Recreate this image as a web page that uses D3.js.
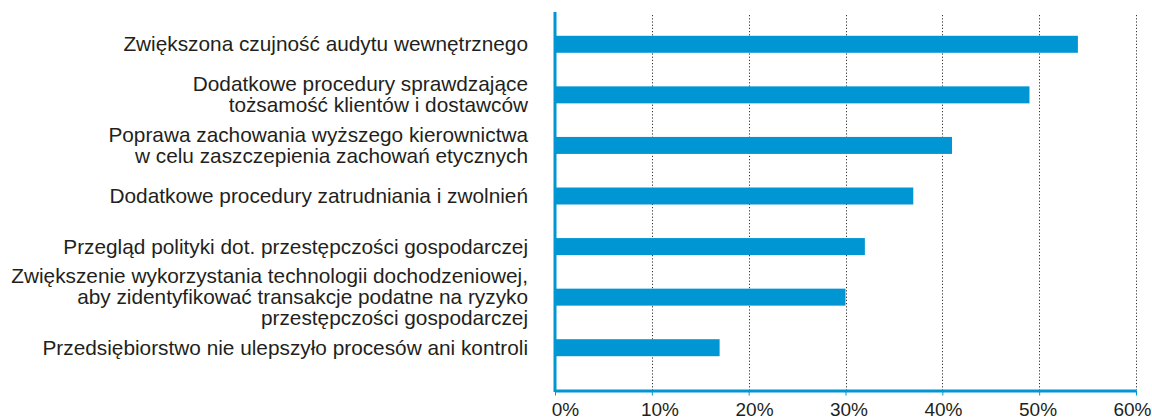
<!DOCTYPE html>
<html>
<head>
<meta charset="utf-8">
<script src="https://cdn.jsdelivr.net/npm/d3@7"></script>
<style>
  body { margin: 0; background: #fff; }
  svg text { font-family: "Liberation Sans", Arial, Helvetica, sans-serif; fill: #231f20; }
</style>
</head>
<body>
<div id="chart"></div>
<script>
// data
var categories = [
  "Zwiększona czujność audytu wewnętrznego",
  "Dodatkowe procedury sprawdzające\ntożsamość klientów i dostawców",
  "Poprawa zachowania wyższego kierownictwa\nw celu zaszczepienia zachowań etycznych",
  "Dodatkowe procedury zatrudniania i zwolnień",
  "Przegląd polityki dot. przestępczości gospodarczej",
  "Zwiększenie wykorzystania technologii dochodzeniowej,\naby zidentyfikować transakcje podatne na ryzyko\nprzestępczości gospodarczej",
  "Przedsiębiorstwo nie ulepszyło procesów ani kontroli"
];
var values = [54, 49, 41, 37, 32, 30, 17];
var tickValues = [0, 10, 20, 30, 40, 50, 60];

var w = 1152, h = 419;
var blue = "#0096d3";

var svg = d3.select("#chart").append("svg")
  .attr("width", w)
  .attr("height", h);

var x = d3.scaleLinear().domain([0, 60]).range([555, 1136]);
// tick labels sit a bit off the ticks in the original, kept inside the frame
var xLabel = d3.scaleLinear().domain([0, 60]).range([565, 1132]);
var y = d3.scaleBand().domain(d3.range(categories.length))
  .range([19, 373]).paddingInner(0.664).paddingOuter(0.332);

// dotted grid lines
svg.selectAll("line.grid")
  .data(tickValues.slice(1))
  .enter().append("line")
  .attr("class", "grid")
  .attr("x1", function(d) { return Math.round(x(d)) + 0.5; })
  .attr("x2", function(d) { return Math.round(x(d)) + 0.5; })
  .attr("y1", 15)
  .attr("y2", 390)
  .attr("stroke", "#333")
  .attr("stroke-width", 1)
  .attr("stroke-dasharray", "1.2,2");

// bars
svg.selectAll("rect")
  .data(values)
  .enter().append("rect")
  .attr("x", x(0))
  .attr("y", function(d, i) { return y(i); })
  .attr("width", function(d) { return x(d) - x(0); })
  .attr("height", y.bandwidth())
  .attr("fill", blue);

// bottom axis
var axis = svg.append("g")
  .attr("transform", "translate(0,390.5)")
  .call(d3.axisBottom(x).tickValues(tickValues)
    .tickFormat(function(d) { return d + "%"; })
    .tickSize(5).tickPadding(7).tickSizeOuter(0));
axis.select(".domain").attr("stroke", blue).attr("stroke-width", 3);
axis.selectAll(".tick line").attr("stroke", blue).attr("stroke-width", 1);
axis.selectAll(".tick text")
  .attr("x", function(d) { return xLabel(d) - x(d); })
  .attr("font-size", "19px")
  .attr("fill", "#231f20")
  .style("font-family", "'Liberation Sans', Arial, sans-serif");

// vertical axis line
svg.append("line")
  .attr("x1", x(0)).attr("x2", x(0))
  .attr("y1", 12).attr("y2", 392)
  .attr("stroke", blue)
  .attr("stroke-width", 3);

// category labels
var lineH = 21;
svg.selectAll("text.cat")
  .data(categories)
  .enter().append("text")
  .attr("class", "cat")
  .attr("text-anchor", "end")
  .attr("font-size", "20.8px")
  .attr("transform", function(d, i) {
    var lines = d.split("\n").length;
    var cy = y(i) + y.bandwidth() / 2 - (lines - 1) * lineH / 2 + 7;
    return "translate(528," + cy + ")";
  })
  .each(function(d) {
    var t = d3.select(this);
    d.split("\n").forEach(function(s, k) {
      t.append("tspan").attr("x", 0).attr("y", k * lineH).text(s);
    });
  });
</script>
</body>
</html>
